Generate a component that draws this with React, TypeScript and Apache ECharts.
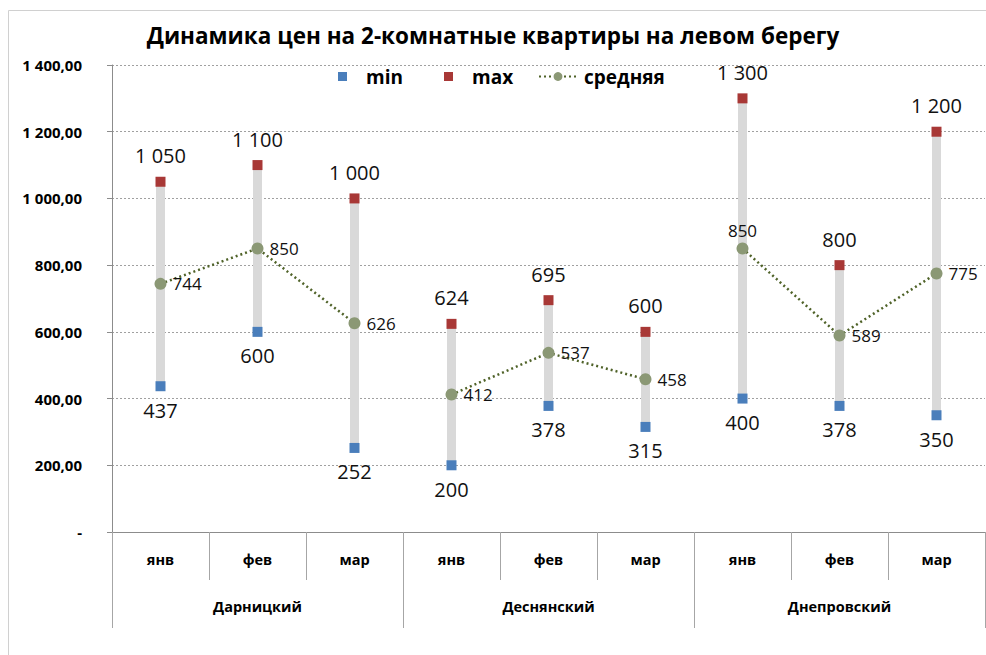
import React, { useEffect, useRef } from "react";
import * as echarts from "echarts";

const months = ["янв", "фев", "мар", "янв", "фев", "мар", "янв", "фев", "мар"];
const districts = ["Дарницкий", "Деснянский", "Днепровский"];
const minValues = [437, 600, 252, 200, 378, 315, 400, 378, 350];
const maxValues = [1050, 1100, 1000, 624, 695, 600, 1300, 800, 1200];
const avgValues = [744, 850, 626, 412, 537, 458, 850, 589, 775];
const avgLabelPos = ["right", "right", "right", "right", "right", "right", "top", "right", "right"];
const groupOf = [0, 0, 0, 1, 1, 1, 2, 2, 2];
const yTicks = [0, 200, 400, 600, 800, 1000, 1200, 1400];

const FONT = "'Open Sans', 'Noto Sans', sans-serif";

function fmtThousands(v: number): string {
  const s = String(Math.round(v));
  return s.replace(/\B(?=(\d{3})+(?!\d))/g, " ");
}

function fmtAxis(v: number): string {
  if (v === 0) return "-";
  return fmtThousands(v) + ",00";
}

export default function App() {
  const ref = useRef<HTMLDivElement>(null);
  useEffect(() => {
    if (!ref.current) return;
    const chart = echarts.init(ref.current, undefined, { renderer: "svg" });
    const valueLabel = {
      show: true,
      fontFamily: FONT,
      fontSize: 20,
      color: "#111",
      formatter: (p: any) => fmtThousands(p.value),
    };
    const legendText = { fontFamily: FONT, fontSize: 19, fontWeight: "bold", color: "#000" };
    const avgSeries = districts.map((_, g) => ({
      name: "средняя",
      type: "line",
      data: avgValues.map((v, i) =>
        groupOf[i] === g
          ? {
              value: v,
              label: { position: avgLabelPos[i], distance: avgLabelPos[i] === "top" ? 3 : 6 },
            }
          : "-"
      ),
      connectNulls: false,
      symbol: "circle",
      symbolSize: 12,
      showAllSymbol: true,
      itemStyle: { color: "#8b9875", opacity: 1 },
      lineStyle: { type: [2, 3], color: "#4f6228", width: 2.5 },
      label: {
        show: true,
        fontFamily: FONT,
        fontSize: 17,
        color: "#111",
        distance: 6,
        formatter: (p: any) => String(p.value),
      },
      z: 6,
    }));
    chart.setOption({
      animation: false,
      backgroundColor: "#ffffff",
      title: {
        text: "Динамика цен на 2-комнатные квартиры на левом берегу",
        left: "center",
        top: 19,
        textStyle: { fontFamily: FONT, fontSize: 22.5, fontWeight: "bold", color: "#000" },
      },
      legend: [
        {
          data: [{ name: "min", icon: "rect" }],
          left: 333,
          top: 62,
          itemWidth: 9,
          itemHeight: 9,
          textStyle: { ...legendText, padding: [0, 0, 0, 14] },
        },
        {
          data: [{ name: "max", icon: "rect" }],
          left: 439,
          top: 62,
          itemWidth: 9,
          itemHeight: 9,
          textStyle: { ...legendText, padding: [0, 0, 0, 14] },
        },
        {
          data: ["средняя"],
          left: 533,
          top: 62,
          itemWidth: 38,
          itemHeight: 11,
          textStyle: { ...legendText, padding: [0, 0, 0, 2] },
        },
      ],
      grid: { left: 112, right: 1, top: 65, bottom: 123, containLabel: false },
      xAxis: [
        {
          type: "category",
          data: months,
          boundaryGap: true,
          axisLine: { show: true, lineStyle: { color: "#8c8c8c", width: 1 } },
          axisTick: { show: true, length: 48, lineStyle: { color: "#a6a6a6" } },
          axisLabel: {
            interval: 0,
            margin: 20,
            fontFamily: FONT,
            fontSize: 14.5,
            fontWeight: "bold",
            color: "#000",
          },
        },
        {
          type: "category",
          data: districts,
          position: "bottom",
          boundaryGap: true,
          axisLine: { show: false },
          axisTick: { show: true, length: 96, lineStyle: { color: "#a6a6a6" } },
          axisLabel: {
            interval: 0,
            margin: 67,
            fontFamily: FONT,
            fontSize: 14.5,
            fontWeight: "bold",
            color: "#000",
          },
        },
      ],
      yAxis: {
        type: "value",
        min: 0,
        max: 1400,
        interval: 200,
        axisLine: { show: true, lineStyle: { color: "#8c8c8c" } },
        axisTick: { show: true, length: 5, lineStyle: { color: "#8c8c8c" } },
        splitLine: { show: true, lineStyle: { type: [2, 2], color: "#a0a0a0", width: 1 } },
        axisLabel: {
          margin: 30,
          fontFamily: FONT,
          fontSize: 15,
          fontWeight: "bold",
          color: "#000",
          customValues: yTicks,
          formatter: (v: number) => fmtAxis(v),
        },
      },
      series: [
        {
          name: "base",
          type: "bar",
          stack: "range",
          data: minValues,
          barWidth: 9,
          itemStyle: { color: "rgba(0,0,0,0)" },
          silent: true,
        },
        {
          name: "range",
          type: "bar",
          stack: "range",
          data: maxValues.map((m, i) => m - minValues[i]),
          barWidth: 9,
          itemStyle: { color: "#d9d9d9" },
          silent: true,
        },
        {
          name: "min",
          type: "scatter",
          data: minValues,
          symbol: "rect",
          symbolSize: 10,
          itemStyle: { color: "#4a7ebb", opacity: 1 },
          label: { ...valueLabel, position: "bottom", distance: 9 },
          z: 5,
        },
        {
          name: "max",
          type: "scatter",
          data: maxValues,
          symbol: "rect",
          symbolSize: 10,
          itemStyle: { color: "#a83836", opacity: 1 },
          label: { ...valueLabel, position: "top", distance: 11 },
          z: 5,
        },
        ...avgSeries,
      ],
      graphic: [
        {
          type: "rect",
          shape: { x: 8.5, y: 10.5, width: 1000, height: 700 },
          style: { fill: "none", stroke: "#d0d0d0", lineWidth: 1 },
          silent: true,
          z: -10,
        },
      ],
    });
    return () => chart.dispose();
  }, []);
  return (
    <div
      ref={ref}
      style={{ position: "fixed", left: 0, top: 0, width: 986, height: 655 }}
    />
  );
}
